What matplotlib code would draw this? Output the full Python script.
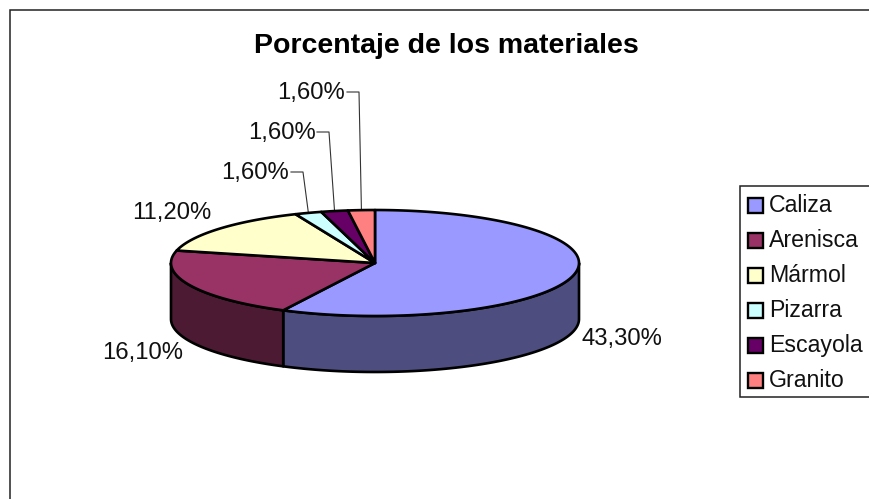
import numpy as np
import matplotlib
matplotlib.use("Agg")
import matplotlib.pyplot as plt
from matplotlib.patches import Polygon, Rectangle

materials = ["Caliza", "Arenisca", "Mármol", "Pizarra", "Escayola", "Granito"]
values = [43.3, 16.1, 11.2, 1.6, 1.6, 1.6]
value_labels = ["43,30%", "16,10%", "11,20%", "1,60%", "1,60%", "1,60%"]
colors = ["#9999FF", "#993366", "#FFFFCC", "#CCFFFF", "#660066", "#FF8080"]
side_colors = ["#4D4D80", "#4D1A33", "#808066", "#668080", "#330033", "#804040"]

plt.rcParams["font.family"] = ["Liberation Sans", "DejaVu Sans"]

fig = plt.figure(figsize=(8.69, 4.99), dpi=100)
ax = fig.add_axes([0, 0, 1, 1])
ax.set_xlim(0, 869)
ax.set_ylim(499, 0)
ax.axis("off")

# pie geometry in pixels
cx, cy = 375, 263
rx, ry = 204, 53
depth = 56


def rim(t):
    return cx + rx * np.sin(t), cy - ry * np.cos(t)


# chart frame, runs off the right and bottom of the picture
ax.add_patch(Rectangle((10, 10), 900, 600, fc="white", ec="#222222", lw=1.1, zorder=0))

edges = np.concatenate([[0], np.cumsum(values)]) / sum(values) * 2 * np.pi

# side wall first, only the front half of the rim shows
for i in range(len(values)):
    a = max(edges[i], np.pi / 2)
    b = min(edges[i + 1], 3 * np.pi / 2)
    if b <= a:
        continue
    t = np.linspace(a, b, 120)
    x, y = rim(t)
    pts = np.r_[np.c_[x, y], np.c_[x, y + depth][::-1]]
    ax.add_patch(Polygon(pts, fc=side_colors[i], ec="black", lw=1.9, joinstyle="round", zorder=2))

# top face
for i in range(len(values)):
    t = np.linspace(edges[i], edges[i + 1], 160)
    x, y = rim(t)
    pts = np.r_[[[cx, cy]], np.c_[x, y]]
    ax.add_patch(Polygon(pts, fc=colors[i], ec="black", lw=1.9, joinstyle="round", zorder=3))

ax.text(446, 46, "Porcentaje de los materiales", ha="center", va="center",
        fontsize=20.5, fontweight="bold", color="black")

label_pos = [(621.5, 338.5), (142.5, 352.5), (172, 213.5), (255, 172.5), (281.5, 132.5), (311, 92.5)]
for i in range(len(values)):
    ax.text(label_pos[i][0], label_pos[i][1], value_labels[i], ha="center", va="center",
            fontsize=17.2, color="#111111")

# leader lines for the three small slices: label end, bend, rim
leader_start = [(291, 172), (317, 132), (347, 92)]
leader_bend = [303, 329, 359]
for i in range(3, 6):
    t = (edges[i] + edges[i + 1]) / 2
    x, y = rim(t)
    lx, ly = leader_start[i - 3]
    ax.plot([lx, leader_bend[i - 3], x], [ly, ly, y - 1], color="#333333", lw=0.8, zorder=1)

# legend
ax.add_patch(Rectangle((740, 186), 140, 211, fc="white", ec="#222222", lw=1.1, zorder=4))
legend_y = [205, 240, 275, 310, 345, 380]
for i in range(len(materials)):
    ax.add_patch(Rectangle((748, legend_y[i] - 7), 15, 14.5, fc=colors[i], ec="black", lw=1.7, zorder=5))
    ax.text(769, legend_y[i] + 0.5, materials[i], ha="left", va="center", fontsize=16.7,
            color="#111111", zorder=5)

fig.savefig("out.png", dpi=100)
